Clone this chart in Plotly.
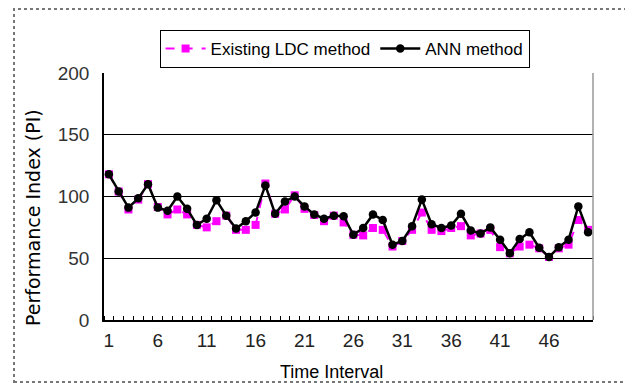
import plotly.graph_objects as go

intervals = list(range(1, 51))
ldc = [118, 104, 89.5, 97.5, 110, 91.5, 85.5, 89.5, 85.5, 77,
       75, 80, 84.5, 73, 73, 77, 110.5, 86, 89.5, 101,
       90, 85, 80, 84.5, 79, 69, 68.5, 74.5, 73, 59.5,
       64, 73, 87, 73, 72, 74.5, 76, 68.5, 70, 73,
       59, 54, 59.5, 61, 58, 51, 58, 61, 81, 73]
ann = [118, 104, 91, 98.5, 110, 91, 88.5, 100, 90, 77,
       82, 97, 84.5, 74, 80, 87, 109, 86, 96, 100,
       92, 85.5, 82, 84.5, 84, 69, 74.5, 85.5, 81, 61,
       64, 76, 97.5, 77.5, 74.5, 76.5, 86, 72.5, 70, 75,
       65, 54, 65.5, 71, 58.5, 51, 59, 65, 92, 71]
xtick_vals = [1, 6, 11, 16, 21, 26, 31, 36, 41, 46]
ytick_vals = [0, 50, 100, 150, 200]

sans = "Liberation Sans, Arial, sans-serif"

fig = go.Figure()
fig.add_trace(go.Scatter(
    x=intervals, y=ldc, name="Existing LDC method", mode="lines+markers",
    line=dict(color="#ff00ff", width=2, dash="dash"),
    marker=dict(symbol="square", size=8, color="#ff00ff"),
))
fig.add_trace(go.Scatter(
    x=intervals, y=ann, name="ANN method", mode="lines+markers",
    line=dict(color="black", width=2.5),
    marker=dict(symbol="circle", size=8.5, color="black"),
))

fig.update_layout(
    width=633, height=383,
    margin=dict(l=96, r=48, t=65, b=71),
    paper_bgcolor="white", plot_bgcolor="white",
    font=dict(family=sans, size=18, color="#222222"),
    showlegend=True,
    legend=dict(orientation="h", x=0.492, xanchor="center", y=1.174, yanchor="top",
                bordercolor="black", borderwidth=1, bgcolor="white",
                font=dict(family=sans, size=17, color="black"),
                itemwidth=40, tracegroupgap=0),
    xaxis=dict(range=[0.5, 50.5], tickmode="array", tickvals=xtick_vals,
               ticktext=[str(v) for v in xtick_vals], ticks="", showgrid=False,
               showline=True, linecolor="black", linewidth=1.5, mirror=False,
               zeroline=False, tickfont=dict(family=sans, size=19, color="#222222"),
               ticklabelstandoff=2,
               minor=dict(tickmode="linear", tick0=0.5, dtick=1, ticks="inside",
                          ticklen=4, tickcolor="black", tickwidth=1, showgrid=False)),
    yaxis=dict(range=[0, 200], tickmode="array", tickvals=ytick_vals, ticks="",
               showgrid=True, gridcolor="black", gridwidth=1,
               showline=True, linecolor="black", linewidth=1.5, zeroline=False,
               tickfont=dict(family=sans, size=19, color="#333333"),
               ticklabelstandoff=9),
    annotations=[
        dict(text="Performance Index (PI)", xref="paper", yref="paper",
             x=(33 - 104) / 489, y=(320 - 218) / 247, textangle=-90,
             showarrow=False, xanchor="center", yanchor="middle",
             font=dict(family="DejaVu Sans, sans-serif", size=19, color="black")),
        dict(text="Time Interval", xref="paper", yref="paper",
             x=(331 - 104) / 489, y=(320 - 372) / 247,
             showarrow=False, xanchor="center", yanchor="middle",
             font=dict(family=sans, size=18, color="black")),
    ],
    shapes=[
        dict(type="rect", xref="paper", yref="paper",
             x0=(14 - 104) / 489, x1=(626 - 104) / 489,
             y0=(320 - 382) / 247, y1=(320 - 9) / 247,
             line=dict(color="#777777", width=2, dash="dot"), layer="below"),
        dict(type="line", xref="paper", yref="paper", x0=1, x1=1, y0=0, y1=1,
             line=dict(color="#999999", width=1.5)),
    ],
)

fig.write_html("out.html")
